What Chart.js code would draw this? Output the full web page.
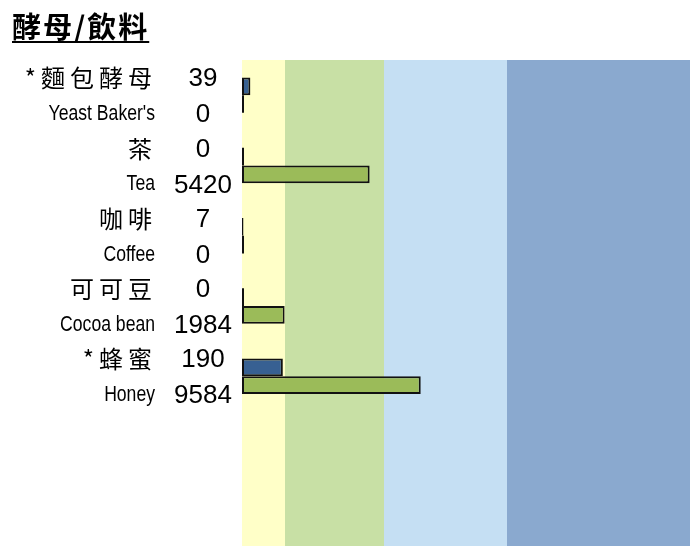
<!DOCTYPE html>
<html lang="zh-Hant">
<head>
<meta charset="UTF-8">
<title>酵母/飲料</title>
<style>
    html, body { margin: 0; padding: 0; background: #fff; overflow: hidden; }
    .wrap { position: relative; width: 690px; height: 546px; overflow: hidden; }
    .title {
        position: absolute; left: 12px; top: 7px;
        font-family: "Noto Sans CJK TC", sans-serif; font-weight: 700; font-size: 29px;
        letter-spacing: 2px; text-decoration: underline; text-underline-offset: 3px;
        text-decoration-thickness: 2px; color: #000; line-height: 36px;
    }
    canvas { position: absolute; left: 0; top: 0; }
</style>
</head>
<body>
<div class="wrap">
    <canvas id="chart" width="690" height="552"></canvas>
    <div class="title">酵母/飲料</div>
</div>
<script src="https://cdn.jsdelivr.net/npm/chart.js"></script>
<script>
    // rows: chinese name + value (blue bar), english name + value (green bar)
    const labelsZh = ['*麵包酵母', '茶', '咖啡', '可可豆', '*蜂蜜', '', ''];
    const labelsEn = ["Yeast Baker's", 'Tea', 'Coffee', 'Cocoa bean', 'Honey', '', ''];
    const valuesZh = [39, 0, 7, 0, 190, null, null];
    const valuesEn = [0, 5420, 0, 1984, 9584, null, null];

    // level thresholds of each series (band edges)
    const breaksZh = [0, 200, 600, 1800, 6000];
    const breaksEn = [0, 2000, 6000, 18000, 60000];
    const bandEdges = [0, 43 / 448, 142 / 448, 265 / 448, 1];
    const bandColors = ['#FFFFC8', '#C8E0A5', '#C5DFF3', '#8AA9CF'];

    const BREAKS = { x: breaksZh, x2: breaksEn };

    // piecewise linear scale: each level gets its own band width
    class LevelScale extends Chart.LinearScale {
        getPixelForValue(value) {
            if (value === null || value === undefined) return NaN;
            const br = BREAKS[this.id];
            let i = 0;
            while (i < br.length - 2 && value > br[i + 1]) i++;
            const t = (value - br[i]) / (br[i + 1] - br[i]);
            const dec = bandEdges[i] + t * (bandEdges[i + 1] - bandEdges[i]);
            return this.getPixelForDecimal(dec);
        }
        getValueForPixel(pixel) {
            const br = BREAKS[this.id];
            const dec = this.getDecimalForPixel(pixel);
            let i = 0;
            while (i < bandEdges.length - 2 && dec > bandEdges[i + 1]) i++;
            const t = (dec - bandEdges[i]) / (bandEdges[i + 1] - bandEdges[i]);
            return br[i] + t * (br[i + 1] - br[i]);
        }
    }
    LevelScale.id = 'level';
    LevelScale.defaults = {};
    Chart.register(LevelScale);

    const bands = {
        id: 'bands',
        beforeDatasetsDraw(chart) {
            const ctx = chart.ctx;
            const xs = chart.scales.x2;
            const area = chart.chartArea;
            ctx.save();
            for (let i = 0; i < bandColors.length; i++) {
                const a = xs.getPixelForValue(breaksEn[i]);
                const b = xs.getPixelForValue(breaksEn[i + 1]);
                ctx.fillStyle = bandColors[i];
                ctx.fillRect(a, area.top, b - a, area.bottom - area.top);
            }
            ctx.restore();
        },
        afterDatasetsDraw(chart) {
            // zero values still show a thin line at the axis
            const ctx = chart.ctx;
            ctx.save();
            ctx.strokeStyle = '#111';
            ctx.lineWidth = 2;
            chart.data.datasets.forEach((ds, di) => {
                chart.getDatasetMeta(di).data.forEach((el, i) => {
                    if (ds.data[i] === 0) {
                        ctx.beginPath();
                        ctx.moveTo(el.base + 1, el.y - el.height / 2);
                        ctx.lineTo(el.base + 1, el.y + el.height / 2);
                        ctx.stroke();
                    }
                });
            });
            ctx.restore();
        }
    };

    const rowLabels = {
        id: 'rowLabels',
        afterDraw(chart) {
            const ctx = chart.ctx;
            const ys = chart.scales.y;
            ctx.save();
            ctx.fillStyle = '#000';
            ctx.textBaseline = 'middle';
            labelsZh.forEach((zh, i) => {
                if (!zh) return;
                const c = ys.getPixelForValue(i);
                const yZh = c - 17;
                const yEn = c + 19;
                // chinese name
                ctx.font = '24px "Noto Sans CJK TC"';
                ctx.letterSpacing = '5px';
                ctx.textAlign = 'right';
                ctx.fillText(zh, 157, yZh);
                ctx.letterSpacing = '0px';
                // english name, narrow
                ctx.save();
                ctx.translate(155, yEn);
                ctx.scale(0.8, 1);
                ctx.font = '22px "Liberation Sans"';
                ctx.fillText(labelsEn[i], 0, 0);
                ctx.restore();
                // values
                ctx.font = '26px "Liberation Sans"';
                ctx.textAlign = 'center';
                ctx.fillText(String(valuesZh[i]), 203, yZh + 1);
                ctx.fillText(String(valuesEn[i]), 203, yEn + 1);
            });
            ctx.restore();
        }
    };

    new Chart(document.getElementById('chart'), {
        type: 'bar',
        data: {
            labels: labelsZh,
            datasets: [
                {
                    data: valuesZh, xAxisID: 'x',
                    backgroundColor: '#376092', borderColor: '#111', borderWidth: 2,
                    borderSkipped: false
                },
                {
                    data: valuesEn, xAxisID: 'x2',
                    backgroundColor: '#9BBB59', borderColor: '#111', borderWidth: 2,
                    borderSkipped: false
                }
            ]
        },
        options: {
            indexAxis: 'y',
            responsive: false,
            animation: false,
            layout: { padding: { left: 242, top: 60, right: 0, bottom: 0 } },
            datasets: { bar: { categoryPercentage: 0.504, barPercentage: 1 } },
            scales: {
                y: { type: 'category', display: false, offset: true },
                x: { type: 'level', display: false, min: 0, max: breaksZh[4] },
                x2: { type: 'level', display: false, min: 0, max: breaksEn[4] }
            },
            plugins: { legend: { display: false }, tooltip: { enabled: false } }
        },
        plugins: [bands, rowLabels]
    });
</script>
</body>
</html>
